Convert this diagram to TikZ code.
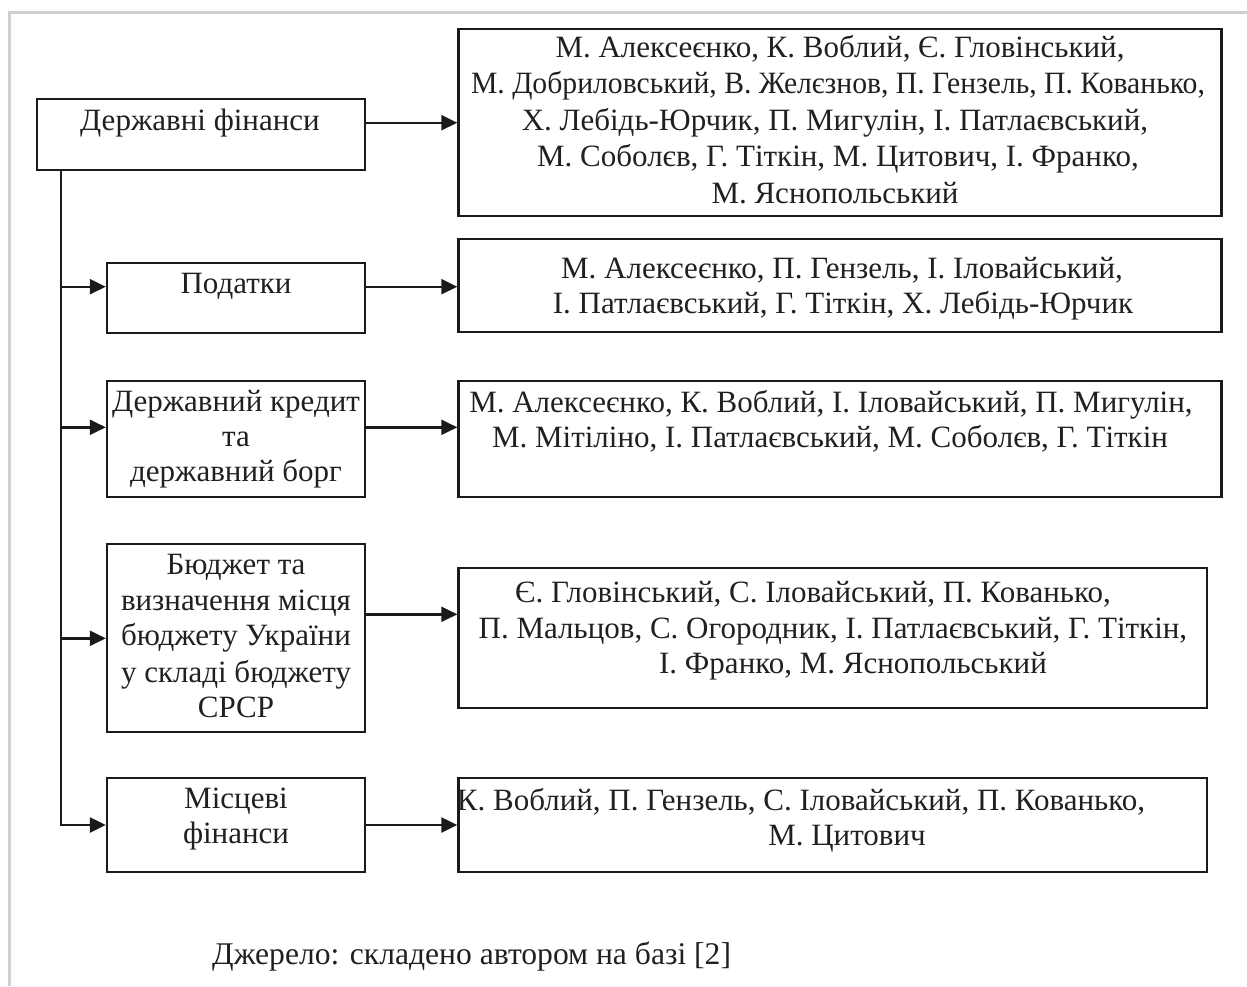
\documentclass[tikz,border=0pt]{standalone}
\usepackage{fontspec}
\setmainfont{Liberation Serif}
\usetikzlibrary{arrows.meta}
\definecolor{ink}{HTML}{1A1A1A}
\definecolor{txt}{HTML}{231F20}
\definecolor{framec}{HTML}{D0D0D0}
\begin{document}
\begin{tikzpicture}[x=1pt,y=-1pt,
  box/.style={draw=ink,line width=2.4pt,inner sep=0pt},
  lbl/.style={text=txt,font=\fontsize{31}{35.5}\selectfont,anchor=base,inner sep=0pt},
  arr/.style={draw=ink,line width=2.4pt,-{Triangle[length=16pt,width=15pt]}}]
\useasboundingbox (0,0) rectangle (1247,986);
\draw[framec,line width=2.7pt] (9.5,986) -- (9.5,12.7) -- (1247,12.7);
% left boxes
\node[box,minimum width=328.3pt,minimum height=71pt] (b1) at (200.85,134.5) {};
\node[box,minimum width=258pt,minimum height=70pt] (b2) at (236,298) {};
\node[box,minimum width=258pt,minimum height=116pt] (b3) at (236,439) {};
\node[box,minimum width=258pt,minimum height=188pt] (b4) at (236,638) {};
\node[box,minimum width=258pt,minimum height=94pt] (b5) at (236,825) {};
% right boxes
\node[box,minimum width=763pt,minimum height=187pt] (r1) at (840,122.5) {};
\node[box,minimum width=763pt,minimum height=93pt] (r2) at (840,285.5) {};
\node[box,minimum width=763pt,minimum height=116pt] (r3) at (840,439) {};
\node[box,minimum width=748.5pt,minimum height=140pt] (r4) at (832.75,638) {};
\node[box,minimum width=748.5pt,minimum height=94pt] (r5) at (832.75,825) {};
% arrow levels
\coordinate (tk) at (60.7,825);
\coordinate (y1) at (0,122.7);
\coordinate (y2) at (0,286.7);
\coordinate (y3) at (0,427.3);
\coordinate (y4a) at (0,638.3);
\coordinate (y4b) at (0,614.3);
% trunk and arrows
\draw[arr] (b1.south -| tk) -- (tk) -- (b5.west);
\draw[arr] (tk |- y2) -- (b2.west |- y2);
\draw[arr] (tk |- y3) -- (b3.west |- y3);
\draw[arr] (tk |- y4a) -- (b4.west |- y4a);
\draw[arr] (b1.east |- y1) -- (r1.west |- y1);
\draw[arr] (b2.east |- y2) -- (r2.west |- y2);
\draw[arr] (b3.east |- y3) -- (r3.west |- y3);
\draw[arr] (b4.east |- y4b) -- (r4.west |- y4b);
\draw[arr] (b5.east) -- (r5.west);
% left texts
\node[lbl] (l1) at (200,130) {Державні фінанси};
\node[lbl] (l2) at (236,293.3) {Податки};
\node[lbl] (l3a) at (236,411.7) {Державний кредит};
\node[lbl] (l3b) at (236,446.7) {та};
\node[lbl] (l3c) at (236,481.7) {державний борг};
\node[lbl] (l4a) at (236,574.5) {Бюджет та};
\node[lbl] (l4b) at (236,610.5) {визначення місця};
\node[lbl] (l4c) at (236,645) {бюджету України};
\node[lbl] (l4d) at (236,682) {у складі бюджету};
\node[lbl] (l4e) at (236,717) {СРСР};
\node[lbl] (l5a) at (236,808) {Місцеві};
\node[lbl] (l5b) at (236,843) {фінанси};
% right texts
\node[lbl] (s1a) at (840,57) {М. Алексеєнко, К. Воблий, Є. Гловінський,};
\node[lbl] (s1b) at (838,93.5) {\scalebox{0.957}[1]{М. Добриловський, В. Желєзнов, П. Гензель, П. Кованько,}};
\node[lbl] (s1c) at (835,130) {Х. Лебідь-Юрчик, П. Мигулін, І. Патлаєвський,};
\node[lbl] (s1d) at (838,166.5) {М. Соболєв, Г. Тіткін, М. Цитович, І. Франко,};
\node[lbl] (s1e) at (835,203) {М. Яснопольський};
\node[lbl] (s2a) at (842,278) {М. Алексеєнко, П. Гензель, І. Іловайський,};
\node[lbl] (s2b) at (843,313) {І. Патлаєвський, Г. Тіткін, Х. Лебідь-Юрчик};
\node[lbl] (s3a) at (831,412) {М. Алексеєнко, К. Воблий, І. Іловайський, П. Мигулін,};
\node[lbl] (s3b) at (830,447) {М. Мітіліно, І. Патлаєвський, М. Соболєв, Г. Тіткін};
\node[lbl] (s4a) at (813,602.5) {Є. Гловінський, С. Іловайський, П. Кованько,};
\node[lbl] (s4b) at (833,638) {П. Мальцов, С. Огородник, І. Патлаєвський, Г. Тіткін,};
\node[lbl] (s4c) at (853,673) {І. Франко, М. Яснопольський};
\node[lbl] (s5a) at (801,810) {К. Воблий, П. Гензель, С. Іловайський, П. Кованько,};
\node[lbl] (s5b) at (847,845) {М. Цитович};
% source
\node[lbl,anchor=base west,font=\fontsize{31.6}{36}\selectfont] (src) at (212,964) {Джерело: складено автором на базі [2]};
\end{tikzpicture}
\end{document}
